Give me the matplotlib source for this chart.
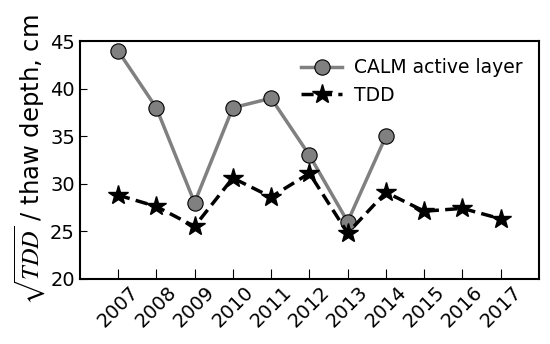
import matplotlib
matplotlib.use("Agg")
import matplotlib.pyplot as plt

plt.rcParams['mathtext.fontset'] = 'stix'
plt.rcParams['font.family'] = 'DejaVu Sans'

years = [2007, 2008, 2009, 2010, 2011, 2012, 2013, 2014, 2015, 2016, 2017]
calm_years = [2007, 2008, 2009, 2010, 2011, 2012, 2013, 2014]
calm = [44, 38, 28, 38, 39, 33, 26, 35]
tdd = [28.8, 27.6, 25.5, 30.6, 28.6, 31.1, 24.8, 29.1, 27.1, 27.4, 26.3]

fig = plt.figure(figsize=(5.5, 3.44), dpi=100)
ax = fig.add_axes([0.145, 0.19, 0.835, 0.69])

ax.plot(calm_years, calm, color='gray', lw=2.5, marker='o', ms=11,
        mfc='gray', mec='black', mew=0.8, label='CALM active layer')
ax.plot(years, tdd, color='black', lw=2.5, ls=(0, (3.5, 1.8)), marker='*',
        ms=15, mfc='black', mec='black', label='TDD')

ax.set_xlim(2006, 2018)
ax.set_ylim(20, 45)
ax.set_xticks(years)
ax.set_xticklabels([str(y) for y in years], rotation=45, fontsize=14)
ax.set_yticks([20, 25, 30, 35, 40, 45])
ax.tick_params(axis='y', labelsize=14, direction='in', length=5)
ax.tick_params(axis='x', direction='in', length=7, pad=3)
for lab in ax.get_xticklabels():
    lab.set_ha('center')
    lab.set_va('top')
ax.set_ylabel(r'$\sqrt{TDD}$ / thaw depth, cm', fontsize=17.5, labelpad=2)
for s in ax.spines.values():
    s.set_linewidth(1.5)

ax.legend(loc='upper right', frameon=False, fontsize=13.5, handlelength=2.2,
          borderaxespad=0.5, handletextpad=0.6, labelspacing=0.45)

fig.savefig('out.png', dpi=100)
